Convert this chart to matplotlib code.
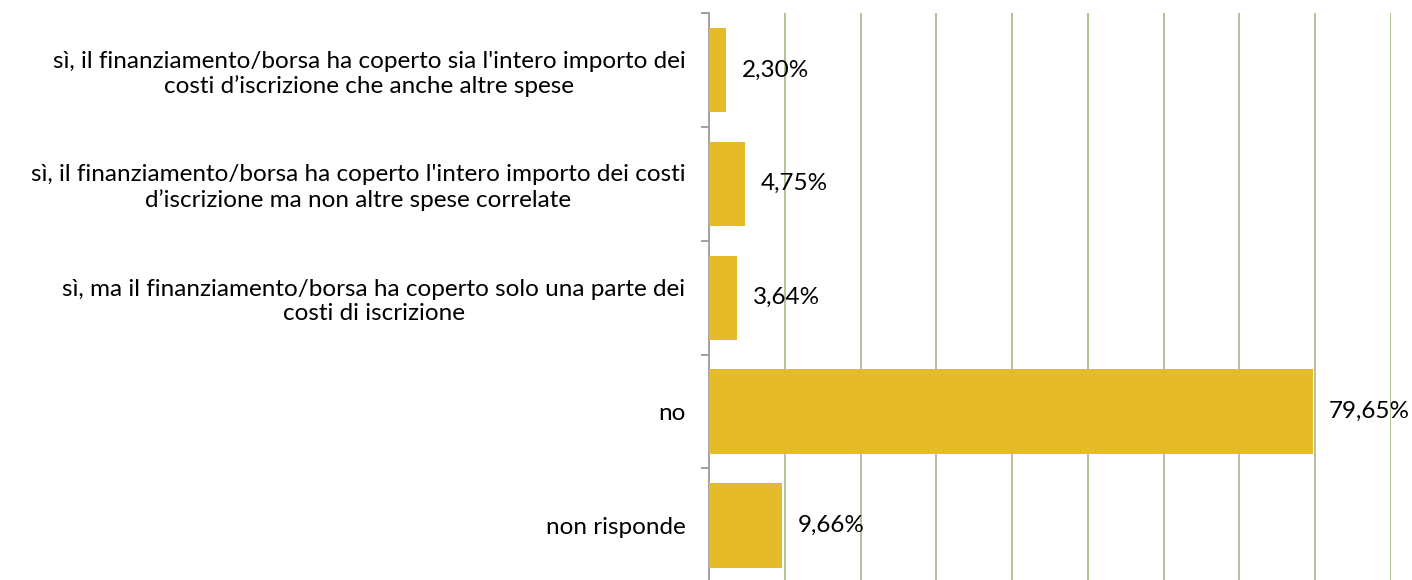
import numpy as np
import matplotlib.pyplot as plt
from matplotlib.ticker import FixedLocator

categories = [
    "sì, il finanziamento/borsa ha coperto sia l'intero importo dei\ncosti d\u2019iscrizione che anche altre spese",
    "sì, il finanziamento/borsa ha coperto l'intero importo dei costi\nd\u2019iscrizione ma non altre spese correlate",
    "sì, ma il finanziamento/borsa ha coperto solo una parte dei\ncosti di iscrizione",
    "no",
    "non risponde",
]
values = [2.30, 4.75, 3.64, 79.65, 9.66]

plt.rcParams['font.family'] = ['Lato', 'DejaVu Sans']

fig = plt.figure(figsize=(14.12, 5.8), dpi=100)
ax = fig.add_axes([0.5021, -0.004, 0.4830, 0.9816])

y = np.arange(len(values))
ax.barh(y, values, height=0.74, color='#e5bb2a', zorder=3)

for yi, v in zip(y, values):
    ax.text(v + 2.1, yi, f"{v:.2f}%".replace('.', ','), va='center', ha='left',
            fontsize=17.5, color='black', zorder=4)

ax.set_xlim(0, 90)
ax.set_ylim(len(values) - 0.5, -0.5)
ax.set_xticks(np.arange(10, 91, 10))
ax.xaxis.grid(True, color='#a9bf8f', linewidth=1.3, zorder=0)
ax.tick_params(axis='x', length=0, labelbottom=False)

ax.set_yticks(y)
ax.set_yticklabels(categories, fontsize=17.5, ha='right', multialignment='center')
ax.tick_params(axis='y', which='major', length=0, pad=17)
ax.yaxis.set_minor_locator(FixedLocator(np.arange(-0.5, len(values), 1)))
ax.tick_params(axis='y', which='minor', length=6, color='#999999', width=1.3)

for s in ['top', 'right', 'bottom']:
    ax.spines[s].set_visible(False)
ax.spines['left'].set_color('#999999')
ax.spines['left'].set_linewidth(1.3)

fig.savefig('out.png', dpi=100)
